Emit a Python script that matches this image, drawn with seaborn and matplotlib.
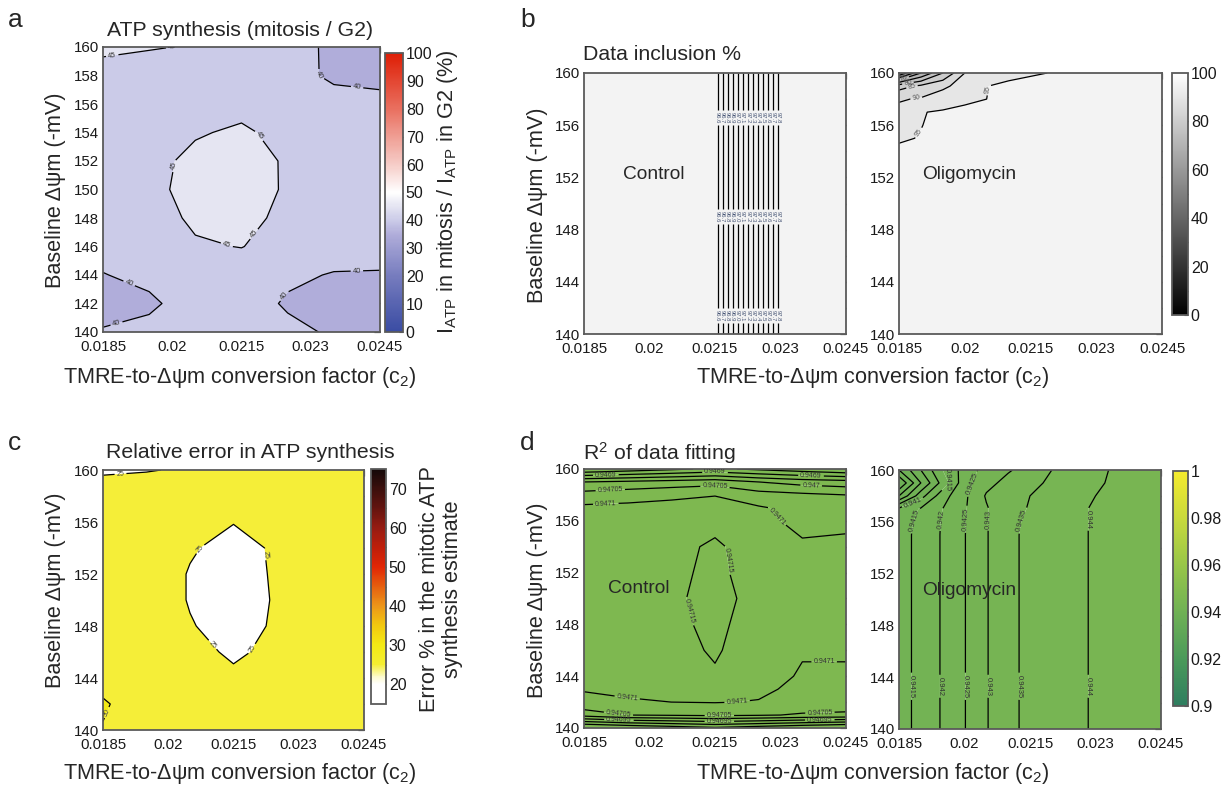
import numpy as np
import matplotlib
matplotlib.use("Agg")
import matplotlib.pyplot as plt
import seaborn as sns
from matplotlib.cm import ScalarMappable
from matplotlib.colors import Normalize, LinearSegmentedColormap

# ---------------------------------------------------------------- data
c2_ticks = [0.0185, 0.02, 0.0215, 0.023, 0.0245]
c2_labels = ["0.0185", "0.02", "0.0215", "0.023", "0.0245"]

# regular parameter grid (conversion factor c2, baseline potential in -mV)
c2_grid = [0.0185, 0.0195, 0.0205, 0.0215, 0.0225, 0.0235, 0.0245]
dpsi_grid = [140, 142, 144, 146, 148, 150, 152, 154, 156, 158, 160]

# a: ATP synthesis ratio mitosis / G2 (%)
atp_ratio = [
    [40.3, 40.8, 41.5, 41.8, 40.8, 39.6, 39.2],
    [38.5, 39.5, 41.3, 41.6, 39.6, 38.6, 38.3],
    [39.9, 40.7, 42.5, 43.0, 40.6, 39.8, 39.8],
    [41.0, 42.5, 44.6, 45.1, 43.5, 41.5, 41.0],
    [42.0, 43.5, 45.6, 46.2, 44.0, 42.5, 42.0],
    [42.5, 44.2, 46.0, 46.6, 44.6, 43.0, 42.5],
    [42.5, 44.0, 45.8, 46.5, 44.6, 43.0, 42.3],
    [42.3, 43.5, 44.7, 45.5, 44.0, 42.5, 41.8],
    [42.5, 43.2, 44.0, 44.0, 43.0, 41.5, 41.0],
    [43.5, 43.5, 43.8, 43.5, 41.5, 39.3, 39.0],
    [45.8, 45.2, 44.8, 44.8, 43.0, 38.5, 38.5],
]

# c: relative error of the mitotic ATP synthesis estimate (%)
error_pct = [
    [29.85, 28.8, 28.0, 27.5, 28.3, 29.0, 29.3],
    [30.3, 28.5, 27.5, 26.5, 28.0, 28.8, 29.2],
    [29.0, 28.0, 27.0, 25.6, 27.5, 28.5, 29.0],
    [28.5, 27.5, 26.0, 24.5, 25.8, 28.0, 28.5],
    [28.3, 27.2, 25.2, 23.8, 25.4, 27.8, 28.3],
    [28.0, 27.0, 24.8, 23.5, 25.3, 27.5, 28.0],
    [28.0, 27.0, 24.8, 23.6, 25.4, 27.5, 28.0],
    [28.0, 27.2, 25.3, 24.0, 25.4, 27.7, 28.0],
    [28.0, 27.3, 26.5, 25.1, 26.8, 28.0, 28.2],
    [27.0, 27.3, 27.0, 26.5, 27.5, 28.0, 28.2],
    [24.5, 24.8, 25.4, 26.5, 27.0, 27.5, 27.5],
]

# b: data inclusion (%), control
incl_ctrl_c2 = [0.0185, 0.02, 0.0215, 0.023, 0.0245]
incl_ctrl_dpsi = [140, 160]
incl_ctrl = [
    [96.55, 96.55, 96.55, 97.85, 97.85],
    [96.55, 96.55, 96.55, 97.85, 97.85],
]

# b: data inclusion (%), oligomycin
incl_oligo_c2 = [0.0185, 0.019, 0.0195, 0.02, 0.0205, 0.021, 0.022, 0.0245]
incl_oligo_dpsi = [140, 154, 155, 156, 157, 158, 159, 160]
incl_oligo = [
    [97.5, 97.5, 97.5, 97.5, 97.5, 97.5, 97.5, 97.5],
    [95.8, 96.5, 97.0, 97.5, 97.5, 97.5, 97.5, 97.5],
    [94.5, 95.2, 96.0, 97.0, 97.5, 97.5, 97.5, 97.5],
    [93.5, 94.9, 96.0, 96.8, 97.3, 97.5, 97.5, 97.5],
    [91.5, 94.8, 95.5, 96.2, 97.0, 97.5, 97.5, 97.5],
    [89.5, 90.5, 92.5, 94.0, 95.0, 96.5, 97.5, 97.5],
    [83.0, 86.0, 89.0, 92.0, 94.9, 96.0, 97.5, 97.5],
    [55.0, 70.0, 80.0, 90.0, 92.0, 93.5, 95.2, 97.5],
]

# d: R^2 of data fitting, control
r2_ctrl_dpsi = [140, 141, 142, 143, 144, 146, 148, 150, 152, 154, 156, 157, 158, 159, 160]
r2_ctrl = [
    [0.94678, 0.94680, 0.94682, 0.94684, 0.94682, 0.94680, 0.94678],
    [0.94702, 0.94705, 0.947055, 0.94706, 0.947055, 0.947045, 0.94704],
    [0.947092, 0.947097, 0.947100, 0.947102, 0.947098, 0.94708, 0.94708],
    [0.947102, 0.947106, 0.947112, 0.94712, 0.947108, 0.94709, 0.94709],
    [0.947112, 0.947118, 0.947128, 0.947145, 0.94712, 0.947095, 0.947095],
    [0.947118, 0.947124, 0.947135, 0.947155, 0.947125, 0.947104, 0.947104],
    [0.94712, 0.947128, 0.94714, 0.94716, 0.94713, 0.947108, 0.947108],
    [0.94712, 0.94713, 0.947142, 0.947165, 0.947135, 0.94711, 0.94711],
    [0.94712, 0.947128, 0.94714, 0.94716, 0.94713, 0.947108, 0.947108],
    [0.947118, 0.947125, 0.947135, 0.947158, 0.947125, 0.947105, 0.947105],
    [0.947115, 0.94712, 0.947125, 0.947135, 0.94711, 0.94709, 0.947095],
    [0.94711, 0.947112, 0.947115, 0.94712, 0.947105, 0.947085, 0.94708],
    [0.94707, 0.94708, 0.94709, 0.947098, 0.94707, 0.94706, 0.94705],
    [0.94700, 0.94701, 0.94702, 0.94703, 0.94700, 0.94698, 0.94697],
    [0.94680, 0.94682, 0.94684, 0.94686, 0.94684, 0.94682, 0.94680],
]

# d: R^2 of data fitting, oligomycin
r2_oligo_c2 = [0.0185, 0.019, 0.0195, 0.02, 0.0205, 0.021, 0.0215, 0.022, 0.0225, 0.023, 0.0245]
r2_oligo_dpsi = [140, 155, 156, 157, 158, 159, 160]
r2_oligo = [
    [0.9413, 0.94165, 0.94205, 0.94248, 0.94296, 0.94345, 0.94355, 0.94373, 0.9439, 0.94405, 0.9443],
    [0.9413, 0.94165, 0.94205, 0.94248, 0.94296, 0.94345, 0.94355, 0.94373, 0.9439, 0.94405, 0.9443],
    [0.94125, 0.94163, 0.94204, 0.94247, 0.94296, 0.94344, 0.94354, 0.94373, 0.9439, 0.94405, 0.9443],
    [0.9411, 0.94155, 0.9420, 0.94245, 0.94295, 0.9434, 0.94352, 0.94372, 0.9439, 0.94405, 0.9443],
    [0.9395, 0.9408, 0.9418, 0.9424, 0.94305, 0.94335, 0.9435, 0.9437, 0.94385, 0.9440, 0.9443],
    [0.9385, 0.9400, 0.9412, 0.9423, 0.94285, 0.94315, 0.94335, 0.9436, 0.9438, 0.94395, 0.9443],
    [0.9395, 0.9405, 0.9415, 0.9422, 0.9427, 0.94295, 0.9432, 0.9435, 0.94375, 0.94395, 0.9442],
]

# ---------------------------------------------------------------- style
sns.set_style("white")
plt.rcParams["font.family"] = ["Liberation Sans", "DejaVu Sans"]
plt.rcParams["mathtext.fontset"] = "custom"
plt.rcParams["mathtext.rm"] = "Liberation Sans"
plt.rcParams["mathtext.it"] = "Liberation Sans:italic"
plt.rcParams["mathtext.default"] = "regular"

W, H = 1231, 790
fig = plt.figure(figsize=(W / 100, H / 100), dpi=100)
fig.patch.set_facecolor("white")

SPINE = "#5a5a5a"
TICK_FS = 10.8
LABEL_FS = 15.6
TITLE_FS = 15.3


def rgb(*c):
    return tuple(v / 255 for v in c)


def anchored_cmap(name, stops):
    lo, hi = stops[0][0], stops[-1][0]
    return LinearSegmentedColormap.from_list(
        name, [((v - lo) / (hi - lo), rgb(*c)) for v, c in stops])


cmap_ratio = anchored_cmap("ratio", [
    (0, (58, 76, 163)), (20, (118, 124, 190)), (35, (176, 173, 218)),
    (40, (203, 203, 232)), (45, (228, 228, 242)), (50, (255, 255, 255)),
    (60, (246, 205, 200)), (80, (233, 112, 96)), (100, (222, 30, 5))])
cmap_error = anchored_cmap("error", [
    (15, (255, 255, 255)), (20, (255, 255, 255)), (22, (252, 250, 200)),
    (25, (245, 238, 50)), (30, (243, 234, 20)), (35, (242, 200, 15)),
    (40, (236, 150, 25)), (45, (230, 95, 15)), (50, (225, 38, 5)),
    (55, (190, 30, 10)), (60, (150, 28, 18)), (65, (100, 20, 15)),
    (70, (60, 15, 12)), (75, (20, 8, 8))])
cmap_gray = sns.blend_palette(["#000000", "#ffffff"], n_colors=256, as_cmap=True)
cmap_r2 = sns.blend_palette(
    ["#2e7d5f", "#4b9a5a", "#70b155", "#98c648", "#c8d93c", "#f5eb2d"],
    n_colors=256, as_cmap=True)


def px_axes(l, t, r, b):
    return fig.add_axes([l / W, 1 - b / H, (r - l) / W, (b - t) / H])


def ftext(x, y, s, **kw):
    fig.text(x / W, 1 - y / H, s, **kw)


def style_axes(ax, every_label=False):
    ax.set_xlim(0.0185, 0.0245)
    ax.set_ylim(140, 160)
    ax.set_xticks(c2_ticks)
    ax.set_xticklabels(c2_labels)
    yt = list(range(140, 161, 2))
    ax.set_yticks(yt)
    ax.set_yticklabels([str(v) if (every_label or v % 4 == 0) else "" for v in yt])
    ax.tick_params(direction="in", top=True, right=True, length=4, width=0.9,
                   color=SPINE, labelsize=TICK_FS, labelcolor="#1a1a1a", pad=3)
    ax.tick_params(axis="x", pad=5.5)
    for s in ax.spines.values():
        s.set_color(SPINE)
        s.set_linewidth(1.3)
        s.set_visible(True)


def filled(ax, x, y, z, levels, cmap, norm):
    colors = [cmap(norm(v)) for v in levels[:-1]]
    ax.contourf(x, y, z, levels=levels, colors=colors, antialiased=True)


def lines(ax, x, y, z, levels, positions, fs=5.5, color="#333333", fmt="%g"):
    cs = ax.contour(x, y, z, levels=levels, colors="k", linewidths=0.9)
    if positions:
        lab = ax.clabel(cs, levels=cs.levels, manual=positions, fontsize=fs,
                        inline=True, inline_spacing=2, fmt=fmt)
        for t in lab:
            t.set_color(color)
    return cs


def colorbar(cax, cmap, norm, ticks, labels, minor=None):
    cb = fig.colorbar(ScalarMappable(norm=norm, cmap=cmap), cax=cax)
    cb.set_ticks(ticks)
    cb.set_ticklabels(labels)
    if minor is not None:
        cb.ax.set_yticks(minor, minor=True)
    cb.ax.tick_params(which="both", direction="in", length=3, width=0.8,
                      color=SPINE, labelsize=11.5, labelcolor="#1a1a1a", pad=2)
    cb.outline.set_edgecolor(SPINE)
    cb.outline.set_linewidth(1.3)
    return cb


YLABEL = "Baseline \u0394\u03c8m (-mV)"
XLABEL = "TMRE-to-\u0394\u03c8m conversion factor (c$_2$)"

# ---------------------------------------------------------------- panel a
ax_a = px_axes(103, 47, 380, 332)
norm_a = Normalize(0, 100)
filled(ax_a, c2_grid, dpsi_grid, atp_ratio, [35, 40, 45, 50], cmap_ratio, norm_a)
lines(ax_a, c2_grid, dpsi_grid, atp_ratio, [40, 45],
      [(0.0187, 159.4), (0.0215, 159.95), (0.0203, 151.5), (0.0219, 153.8),
       (0.0212, 146.3), (0.0218, 146.8), (0.0241, 159.95), (0.0229, 158.0),
       (0.0190, 142.9), (0.0188, 140.5), (0.0224, 142.6), (0.0240, 144.2)])
style_axes(ax_a, every_label=True)
cax_a = px_axes(385, 53, 403, 332)
colorbar(cax_a, cmap_ratio, norm_a, list(range(0, 101, 10)),
         [str(v) for v in range(0, 101, 10)])
ftext(447, 192, "I$_{ATP}$ in mitosis / I$_{ATP}$ in G2 (%)", rotation=90,
      ha="center", va="center", fontsize=LABEL_FS)
ftext(240, 30, "ATP synthesis (mitosis / G2)", ha="center", va="center", fontsize=TITLE_FS)
ftext(55, 190, YLABEL, rotation=90, ha="center", va="center", fontsize=LABEL_FS)
ftext(240, 378, XLABEL, ha="center", va="center", fontsize=LABEL_FS)
ftext(8, 20, "a", ha="left", va="center", fontsize=19)

# ---------------------------------------------------------------- panel b
norm_b = Normalize(0, 100)
ax_b1 = px_axes(584, 73, 846, 334)
filled(ax_b1, incl_ctrl_c2, incl_ctrl_dpsi, incl_ctrl, [95, 100], cmap_gray, norm_b)
ctrl_levels = [96.6, 96.7, 96.8, 96.9, 97.0, 97.1, 97.2, 97.3, 97.4, 97.5, 97.6, 97.7, 97.8]
ctrl_x = np.interp(ctrl_levels, [incl_ctrl[0][2], incl_ctrl[0][3]],
                   [incl_ctrl_c2[2], incl_ctrl_c2[3]])
ctrl_pos = [(xv, yv) for yv in (156.6, 149.0, 141.4) for xv in ctrl_x]
lines(ax_b1, incl_ctrl_c2, incl_ctrl_dpsi, incl_ctrl, ctrl_levels, ctrl_pos,
      fs=4.2, color="#4a5878", fmt="%.1f")
style_axes(ax_b1)
ax_b1.text(0.0201, 152.2, "Control", ha="center", va="center", fontsize=13.8)

ax_b2 = px_axes(899, 73, 1162, 334)
filled(ax_b2, incl_oligo_c2, incl_oligo_dpsi, incl_oligo,
       list(range(50, 101, 5)), cmap_gray, norm_b)
lines(ax_b2, incl_oligo_c2, incl_oligo_dpsi, incl_oligo, list(range(60, 100, 5)),
      [(0.0190, 155.3), (0.0206, 158.7), (0.0189, 157.9), (0.0188, 158.9),
       (0.0187, 159.3), (0.0186, 159.6)], fs=5, color="#555555")
style_axes(ax_b2)
ax_b2.text(0.0201, 152.2, "Oligomycin", ha="center", va="center", fontsize=13.8)

cax_b = px_axes(1172, 73, 1188, 315)
colorbar(cax_b, cmap_gray, norm_b, list(range(0, 101, 20)),
         [str(v) for v in range(0, 101, 20)], minor=list(range(10, 100, 20)))
ftext(583, 55, "Data inclusion %", ha="left", va="center", fontsize=TITLE_FS)
ftext(538, 205, YLABEL, rotation=90, ha="center", va="center", fontsize=LABEL_FS)
ftext(873, 378, XLABEL, ha="center", va="center", fontsize=LABEL_FS)
ftext(520, 20, "b", ha="left", va="center", fontsize=19)

# ---------------------------------------------------------------- panel c
ax_c = px_axes(103, 470, 364, 730)
norm_c = Normalize(15, 75)
filled(ax_c, c2_grid, dpsi_grid, error_pct, list(range(15, 80, 5)), cmap_error, norm_c)
lines(ax_c, c2_grid, dpsi_grid, error_pct, [25, 30],
      [(0.0189, 159.8), (0.0207, 154.0), (0.0222, 153.5), (0.0210, 146.5),
       (0.0219, 146.3), (0.01862, 141.3)], fs=5, color="#444444")
style_axes(ax_c)
cax_c = px_axes(371, 469, 386, 704)
colorbar(cax_c, cmap_error, norm_c, list(range(20, 71, 10)),
         [str(v) for v in range(20, 71, 10)], minor=list(range(25, 75, 10)))
ftext(441, 589, "Error % in the mitotic ATP\nsynthesis estimate", rotation=90,
      ha="center", va="center", fontsize=LABEL_FS, multialignment="center",
      linespacing=1.1)
ftext(250, 453, "Relative error in ATP synthesis", ha="center", va="center",
      fontsize=TITLE_FS)
ftext(55, 590, YLABEL, rotation=90, ha="center", va="center", fontsize=LABEL_FS)
ftext(240, 773, XLABEL, ha="center", va="center", fontsize=LABEL_FS)
ftext(8, 443, "c", ha="left", va="center", fontsize=19)

# ---------------------------------------------------------------- panel d
norm_d = Normalize(0.9, 1.0)
ax_d1 = px_axes(584, 469, 846, 728)
filled(ax_d1, c2_grid, r2_ctrl_dpsi, r2_ctrl,
       list(np.round(np.arange(0.9466, 0.94722, 0.00005), 5)), cmap_r2, norm_d)
ctrl_r2_levels = list(np.round(np.arange(0.94685, 0.94716, 0.00005), 5))
lines(ax_d1, c2_grid, r2_ctrl_dpsi, r2_ctrl, ctrl_r2_levels,
      [(0.0190, 159.6), (0.0191, 158.5),
       (0.0215, 159.7), (0.0215, 158.9),
       (0.0237, 159.6), (0.0237, 158.5),
       (0.0190, 157.3), (0.0229, 156.3), (0.0195, 142.6), (0.0220, 142.2),
       (0.0240, 145.0), (0.0219, 153.0), (0.0209, 149.0),
       (0.0193, 141.4), (0.0193, 140.6),
       (0.0216, 141.0), (0.0216, 140.4),
       (0.0239, 141.5), (0.0239, 140.6)],
      fs=5, color="#333333")
style_axes(ax_d1)
ax_d1.text(0.01975, 150.8, "Control", ha="center", va="center", fontsize=13.8)

ax_d2 = px_axes(899, 470, 1161, 729)
filled(ax_d2, r2_oligo_c2, r2_oligo_dpsi, r2_oligo,
       list(np.round(np.arange(0.938, 0.9451, 0.0005), 4)), cmap_r2, norm_d)
oligo_r2_levels = list(np.round(np.arange(0.9385, 0.9441, 0.0005), 4))
vx = [0.01879, 0.01942, 0.02003, 0.02055, 0.02125, 0.02283]
lines(ax_d2, r2_oligo_c2, r2_oligo_dpsi, r2_oligo, oligo_r2_levels,
      [(xv, 156.2) for xv in vx] + [(xv, 143.3) for xv in vx]
      + [(0.0188, 157.6), (0.0197, 159.4), (0.0202, 158.9)],
      fs=5.5, color="#333333")
style_axes(ax_d2)
ax_d2.text(0.0201, 150.7, "Oligomycin", ha="center", va="center", fontsize=13.8)

cax_d = px_axes(1173, 471, 1188, 706)
colorbar(cax_d, cmap_r2, norm_d, [0.9, 0.92, 0.94, 0.96, 0.98, 1.0],
         ["0.9", "0.92", "0.94", "0.96", "0.98", "1"],
         minor=[0.91, 0.93, 0.95, 0.97, 0.99])
ftext(583, 453, "R$^2$ of data fitting", ha="left", va="center", fontsize=TITLE_FS)
ftext(538, 600, YLABEL, rotation=90, ha="center", va="center", fontsize=LABEL_FS)
ftext(873, 773, XLABEL, ha="center", va="center", fontsize=LABEL_FS)
ftext(520, 443, "d", ha="left", va="center", fontsize=19)

fig.savefig("out.png", dpi=100, facecolor="white")
